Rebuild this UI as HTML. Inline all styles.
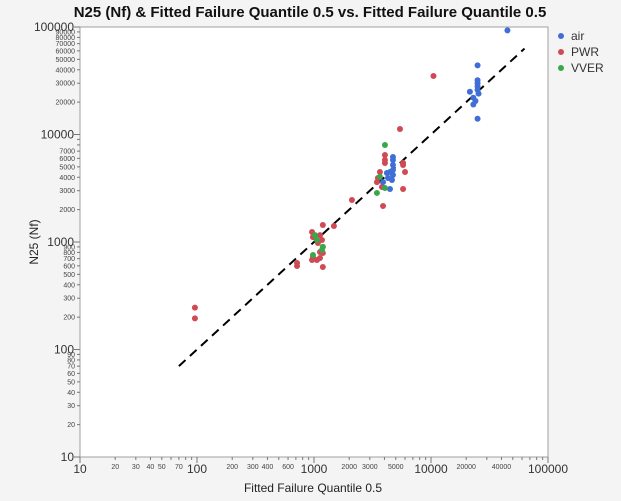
<!DOCTYPE html>
<html><head><meta charset="utf-8"><style>
body{margin:0;background:#f4f4f4;font-family:"Liberation Sans",sans-serif}
svg{display:block}
</style></head><body>
<svg id="c" width="621" height="501" xmlns="http://www.w3.org/2000/svg">
<rect width="621" height="501" fill="#f4f4f4"/>
<text x="310" y="17" text-anchor="middle" font-size="15" font-weight="bold" fill="#111">N25 (Nf) &amp; Fitted Failure Quantile 0.5 vs. Fitted Failure Quantile 0.5</text>
<rect x="80" y="27" width="468" height="430" fill="#fff" stroke="#a0a0a0"/>
<g id="axes"></g>
<g id="marks"></g>
<text x="313" y="492" text-anchor="middle" font-size="12" fill="#222">Fitted Failure Quantile 0.5</text>
<text transform="translate(38,242) rotate(-90)" text-anchor="middle" font-size="12" fill="#222">N25 (Nf)</text>
<g>
<circle cx="561" cy="36" r="3" fill="#3f6fd6"/>
<text x="571" y="40" font-size="12" fill="#333">air</text>
<circle cx="561" cy="52" r="3" fill="#d04a55"/>
<text x="571" y="56" font-size="12" fill="#333">PWR</text>
<circle cx="561" cy="68" r="3" fill="#3aa84a"/>
<text x="571" y="72" font-size="12" fill="#333">VVER</text>
</g>
</svg>
<script>
const majorTicks=[10,100,1000,10000,100000];
const xMinorLabels=[20,30,40,50,70,200,300,400,600,2000,3000,5000,20000,40000];
const yMinorLabels=[20,30,40,50,60,70,80,90,200,300,400,500,600,700,800,900,2000,3000,4000,5000,6000,7000,20000,30000,40000,50000,60000,70000,80000,90000];
const fitLine=[70,63000];
const airX=[45000,25000,25000,25000,25000,21500,23000,24000,23000,25000,25500,25000,4730,4730,4730,4730,4730,4460,4200,4290,4640,4460,3890];
const airY=[93000,44000,32000,30000,14000,25000,22000,20500,19000,26000,24000,28000,6170,5790,5200,4670,4200,4480,4380,3940,3770,3110,3610];
const pwrX=[10500,5430,96,96,1190,1480,2110,5770,5770,6000,5770,3890,4040,4040,4040,3660,3520,3810,3450,962,980,1125,1170,1080,1190,1125,1190,980,962,1125,1190,716,716,1060];
const pwrY=[35000,11250,245,195,1440,1410,2460,5430,5200,4480,3110,2160,6440,5790,5430,4480,3940,3250,3610,1240,1110,1160,1045,980,900,807,790,725,680,710,585,638,598,680];
const vverX=[4040,3450,4040,3660,1020,1190,980,1060,1170];
const vverY=[7980,2860,3180,4030,1160,900,757,1045,843];
const X0=80,X1=548,Y0=457,Y1=27;
const sx=v=>X0+(Math.log10(v)-1)/4*(X1-X0);
const sy=v=>Y0-(Math.log10(v)-1)/4*(Y0-Y1);
const NS="http://www.w3.org/2000/svg";
const ax=document.getElementById('axes'),mk=document.getElementById('marks');
function el(t,a,p){const e=document.createElementNS(NS,t);for(const k in a)e.setAttribute(k,a[k]);p.appendChild(e);return e;}
for(let d=10;d<=100000;d*=10){for(let m=1;m<10;m++){const v=d*m;if(v>100000)break;const maj=m===1;
 let t=el('line',{x1:sx(v),x2:sx(v),y1:Y0,y2:Y0+(maj?6:3),stroke:'#777'},ax);
 
 t=el('line',{y1:sy(v),y2:sy(v),x1:X0,x2:X0-(maj?6:3),stroke:'#777'},ax);
 }}
majorTicks.forEach(v=>{
 let t=el('text',{x:sx(v),y:Y0+16,'text-anchor':'middle','font-size':12,fill:'#333'},ax);t.textContent=v;
 
 t=el('text',{x:X0-6,y:sy(v)+4,'text-anchor':'end','font-size':12,fill:'#333'},ax);t.textContent=v;
 });
xMinorLabels.forEach(v=>{const t=el('text',{x:sx(v),y:Y0+12,'text-anchor':'middle','font-size':7,fill:'#444'},ax);t.textContent=v;
 });
yMinorLabels.forEach(v=>{const t=el('text',{x:X0-5,y:sy(v)+2.5,'text-anchor':'end','font-size':7,fill:'#444'},ax);t.textContent=v;
 });
const ln=el('line',{x1:sx(fitLine[0]),y1:sy(fitLine[0]),x2:sx(fitLine[1]),y2:sy(fitLine[1]),stroke:'#000','stroke-width':2,'stroke-dasharray':'9,6'},mk);


function pts(xs,ys,c,n){xs.forEach((x,i)=>{const p=el('circle',{cx:sx(x),cy:sy(ys[i]),r:3,fill:c},mk);
 
 });}
pts(pwrX,pwrY,'#d04a55','pwr-point');
pts(airX,airY,'#3f6fd6','air-point');
pts(vverX,vverY,'#3aa84a','vver-point');
</script>
</body></html>
